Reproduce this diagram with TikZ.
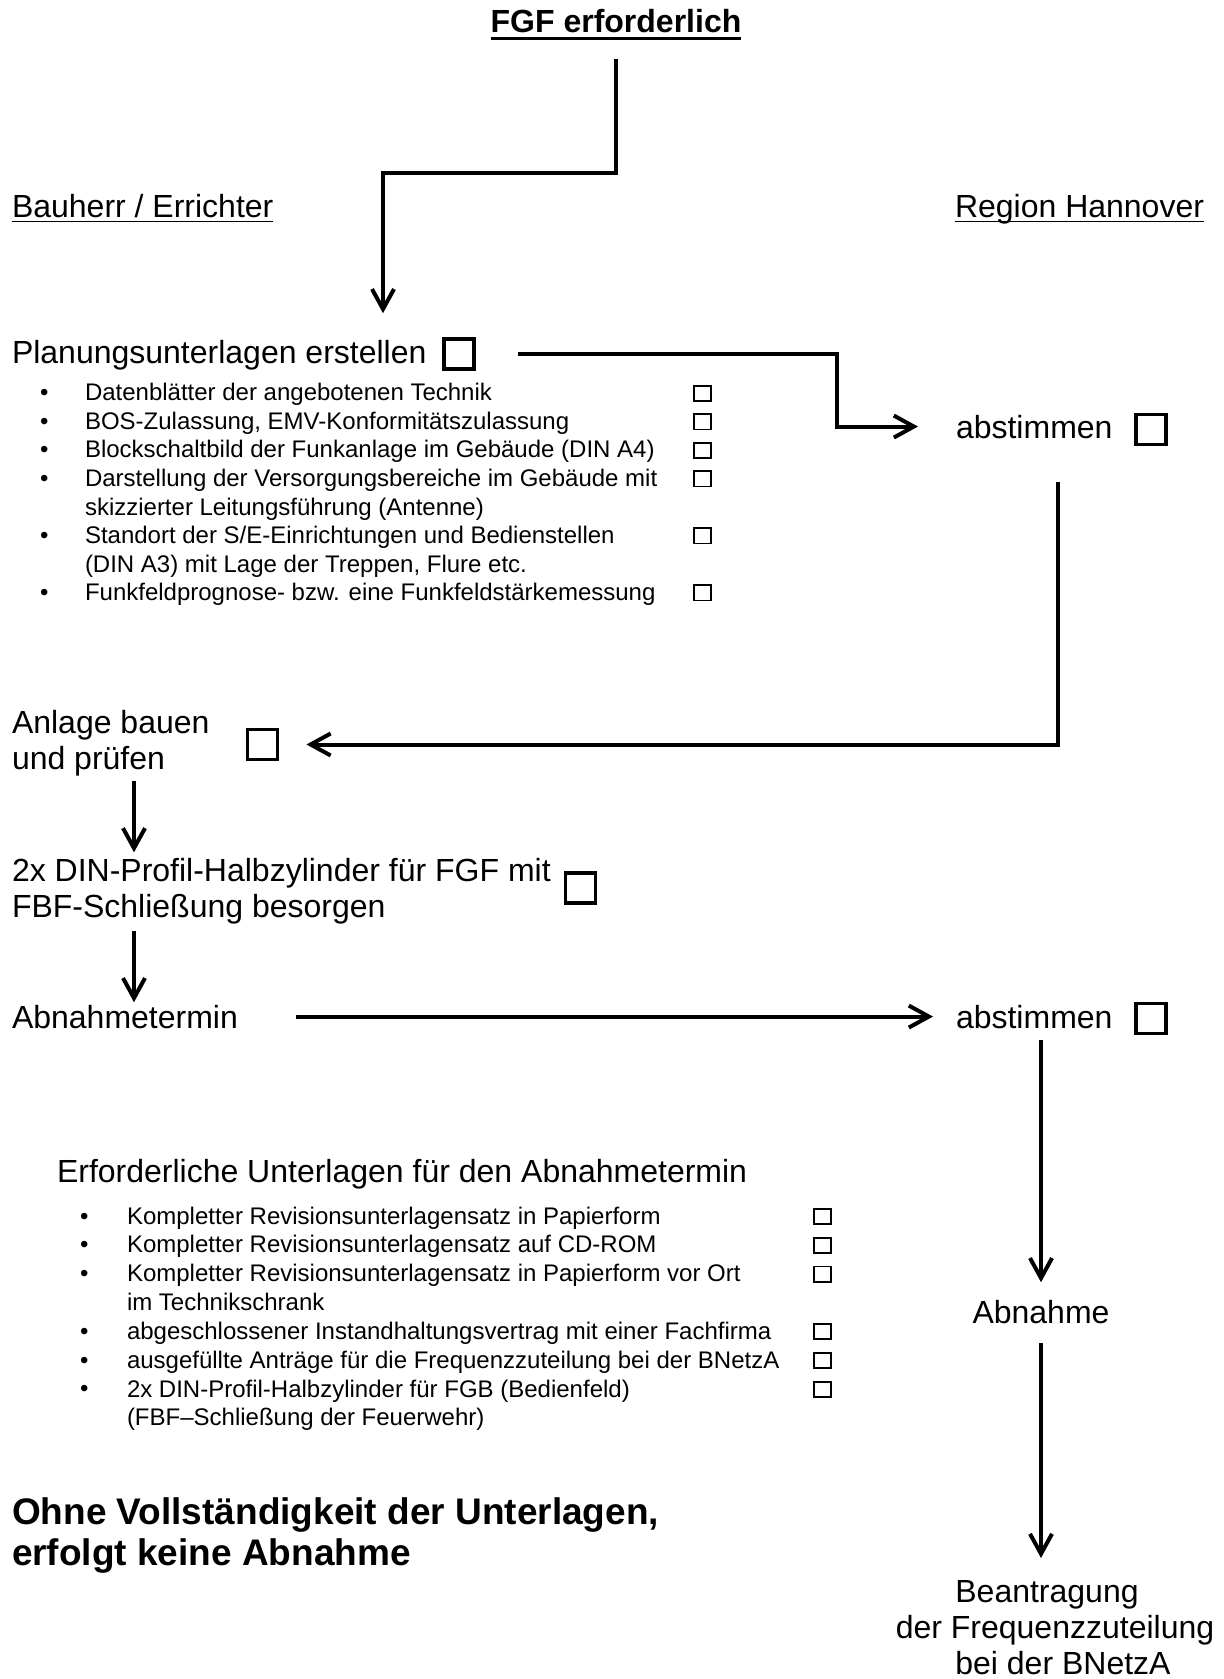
\documentclass[tikz,border=0pt]{standalone}
\usepackage{fontspec}
\setmainfont{Liberation Sans}
\usepackage{tikz}
\usetikzlibrary{arrows.meta}

\begin{document}
\begin{tikzpicture}[
    x=0.5pt, y=-0.5pt,
    every node/.style={inner sep=0pt, outer sep=0pt},
    txt/.style={
        anchor=base west,
        align=left,
        font=\fontsize{16}{17.75}\selectfont
    },
    item/.style={
        anchor=base west,
        align=left,
        font=\fontsize{12}{14.25}\selectfont
    },
    chk/.style={
        draw,
        line width=1.6pt,
        minimum size=15pt
    },
    tick/.style={
        draw,
        line width=0.9pt,
        minimum width=8.6pt,
        minimum height=7.6pt,
        anchor=south
    },
    flow/.style={
        -{Straight Barb[length=10pt, width=11pt]},
        line width=2pt
    }
]
    \useasboundingbox (0,0) rectangle (1224,1679);

    \node[anchor=base, font=\bfseries\fontsize{16}{18}\selectfont] (fgf) at (616,33) {FGF erforderlich};
    \draw[line width=1.35pt] ([yshift=-2.85pt]fgf.base west) -- ([yshift=-2.85pt]fgf.base east);

    \node[txt] (bauherr) at (12,218) {Bauherr / Errichter};
    \draw[line width=0.85pt] ([yshift=-1.75pt]bauherr.base west) -- ([yshift=-1.75pt]bauherr.base east);
    \node[txt] (region) at (955,218) {Region Hannover};
    \draw[line width=0.85pt] ([yshift=-1.75pt]region.base west) -- ([yshift=-1.75pt]region.base east);

    \node[txt] (plan) at (12,364) {Planungsunterlagen erstellen};
    \node[chk] (planbox) at (459,354) {};
    % \y: first line, \z: last line (base of the node)
    \foreach \t/\y/\z [count=\i] in {
        {Datenblätter der angebotenen Technik}/401/401,
        {BOS-Zulassung, EMV-Konformitätszulassung}/429.5/429.5,
        {Blockschaltbild der Funkanlage im Gebäude (DIN A4)}/458/458,
        {Darstellung der Versorgungsbereiche im Gebäude mit\\skizzierter Leitungsführung (Antenne)}/486.5/515,
        {Standort der S/E-Einrichtungen und Bedienstellen\\(DIN A3) mit Lage der Treppen, Flure etc.}/543.5/572,
        {Funkfeldprognose- bzw. eine Funkfeldstärkemessung}/600.5/600.5} {
        \node[item] (pdot\i) at (40,\y) {•};
        \node[item] (ptext\i) at (85,\z) {\t};
        \node[tick] (pbox\i) at (702.5,\y) {};
    }

    \node[txt] (ab1) at (956,438) {abstimmen};
    \node[chk] (ab1box) at (1151,429.5) {};

    \node[txt] (anl) at (12,769) {Anlage bauen\\und prüfen};
    \node[chk] (anlbox) at (262.5,744.5) {};

    \node[txt] (din) at (12,917) {2x DIN-Profil-Halbzylinder für FGF mit\\FBF-Schließung besorgen};
    \node[chk] (dinbox) at (580.5,888) {};

    \node[txt] (termin) at (12,1028) {Abnahmetermin};
    \node[txt] (ab2) at (956,1028) {abstimmen};
    \node[chk] (ab2box) at (1151,1018.5) {};

    \node[txt] (erf) at (57,1182) {Erforderliche Unterlagen für den Abnahmetermin};
    \foreach \t/\y/\z [count=\i] in {
        {Kompletter Revisionsunterlagensatz in Papierform}/1224/1224,
        {Kompletter Revisionsunterlagensatz auf CD-ROM}/1252.8/1252.8,
        {Kompletter Revisionsunterlagensatz in Papierform vor Ort\\im Technikschrank}/1281.6/1310.4,
        {abgeschlossener Instandhaltungsvertrag mit einer Fachfirma}/1339.2/1339.2,
        {ausgefüllte Anträge für die Frequenzzuteilung bei der BNetzA}/1368/1368,
        {2x DIN-Profil-Halbzylinder für FGB (Bedienfeld)\\(FBF–Schließung der Feuerwehr)}/1396.8/1425.6} {
        \node[item] (udot\i) at (80,\y) {•};
        \node[item] (utext\i) at (127,\z) {\t};
        \node[tick] (ubox\i) at (822.5,\y) {};
    }

    \node[txt, anchor=base] (abn) at (1041,1323) {Abnahme};
    \node[txt, anchor=base, align=center, font=\fontsize{16}{18}\selectfont] (bean) at (1055,1674) {Beantragung\hspace*{8pt}\\der Frequenzzuteilung\\\hspace*{8pt}bei der BNetzA};

    \node[txt, font=\bfseries\fontsize{18.5}{20.5}\selectfont] (ohne) at (12,1565) {Ohne Vollständigkeit der Unterlagen,\\erfolgt keine Abnahme};

    \coordinate (k1) at (383,173);
    \coordinate (k2) at (837,390);
    \coordinate (k3) at (1058,0);
    \coordinate (k4) at (134,0);

    \draw[flow, shorten >=13.8pt] (fgf.south) ++(0,26) |- (k1) -- (k1 |- plan.north);
    \draw[flow, shorten <=22pt, shorten >=19pt] (planbox.east) -| (k2) |- (ab1.west);
    \draw[flow, shorten >=14.5pt] (k3 |- ab1.south) ++(0,44) |- (anlbox.east);
    \draw[flow, shorten <=2.5pt, shorten >=3pt] (k4 |- anl.south) -- (k4 |- din.north);
    \draw[flow, shorten <=3.5pt, shorten >=1.3pt] (k4 |- din.south) -- (k4 |- termin.north);
    \draw[flow, shorten <=29pt, shorten >=11.5pt] (termin.east) -- (ab2.west);
    \draw[flow, shorten <=6pt, shorten >=8.8pt] (ab2.south -| abn.north) -- (abn.north);
    \draw[flow, shorten <=10pt, shorten >=11pt] (abn.south) -- (abn.south |- bean.north);
\end{tikzpicture}
\end{document}
